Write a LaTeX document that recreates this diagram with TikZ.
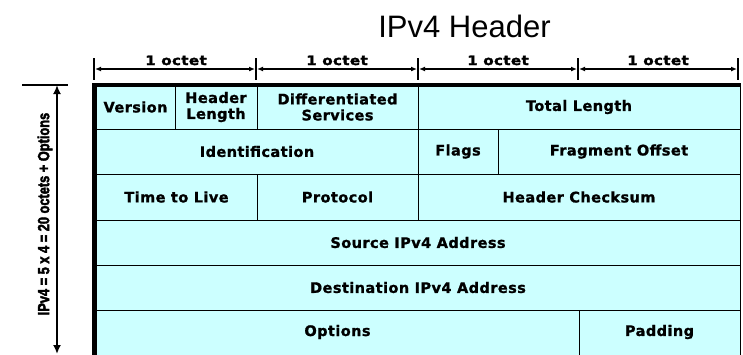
\documentclass[tikz,border=0pt]{standalone}
\usepackage{fontspec}
\setmainfont{DejaVu Sans}
\newfontfamily\cellfont[LetterSpace=3,FakeBold=1.2]{DejaVu Sans Bold}
\newfontfamily\octfont[LetterSpace=3,FakeBold=2]{DejaVu Sans Bold}
\newfontfamily\sidefont[FakeBold=3]{Liberation Sans Bold}
\newfontfamily\titlefont{Liberation Sans}
\usetikzlibrary{arrows.meta}
\definecolor{cellcyan}{RGB}{204,255,255}
\begin{document}
\begin{tikzpicture}[x=1pt,y=-1pt,
  cell/.style={draw=black, line width=1pt, fill=cellcyan, anchor=north west,
    inner sep=0pt, outer sep=0pt, align=center,
    font=\cellfont\fontsize{14.5}{16}\selectfont},
  tick/.style={line width=1.8pt},
  ruler/.style={line width=1.8pt, {Latex[length=6pt,width=5pt]}-{Latex[length=6pt,width=5pt]}},
  octet/.style={anchor=base, inner sep=0pt, xscale=1.15,
    font=\octfont\fontsize{13}{15}\selectfont},
  border/.style={line width=3.5pt, line join=miter},
]
\useasboundingbox (0,0) rectangle (743,354);
\clip (0,0) rectangle (743,354);

% title
\node[anchor=base, inner sep=0pt, font=\titlefont\fontsize{31}{36}\selectfont] (title) at (464.5,37) {IPv4 Header};

% row 1
\node[cell, minimum width=79pt,  minimum height=44pt] (version) at (96,85)  {Version};
\node[cell, minimum width=82pt,  minimum height=44pt] (hlen)    at (175,85) {Header\\Length};
\node[cell, minimum width=161pt, minimum height=44pt] (diff)    at (257,85) {Differentiated\\Services};
\node[cell, minimum width=322pt, minimum height=44pt] (total)   at (418,85) {Total Length};
% row 2
\node[cell, minimum width=322pt, minimum height=45pt] (ident) at (96,129)  {Identification};
\node[cell, minimum width=80pt,  minimum height=45pt] (flags) at (418,129) {Flags};
\node[cell, minimum width=242pt, minimum height=45pt] (frag)  at (498,129) {Fragment Offset};
% row 3
\node[cell, minimum width=161pt, minimum height=46pt] (ttl)   at (96,174)  {Time to Live};
\node[cell, minimum width=161pt, minimum height=46pt] (proto) at (257,174) {Protocol};
\node[cell, minimum width=322pt, minimum height=46pt] (chk)   at (418,174) {Header Checksum};
% row 4, 5
\node[cell, minimum width=644pt, minimum height=45pt] (src) at (96,220) {Source IPv4 Address};
\node[cell, minimum width=644pt, minimum height=45pt] (dst) at (96,265) {Destination IPv4 Address};
% row 6
\node[cell, minimum width=483pt, minimum height=44pt] (opt) at (96,310) {Options};
\node[cell, minimum width=161pt, minimum height=44pt] (pad) at (579,310) {Padding};
\fill[cellcyan] (96.5,353) rectangle (739.5,360);
\draw[line width=1pt] (579,353) -- (579,360) (740,353) -- (740,360);

% thick left and top border
\draw[border] (94,360) -- (94,85) -- (740.5,85);

% octet ruler
\foreach \i/\x in {0/94,1/256,2/418,3/578,4/738}{
  \coordinate (rt\i) at (\x,58);
  \coordinate (rb\i) at (\x,80);
  \draw[tick] (rt\i) -- (rb\i);
}
\foreach \i/\x in {0/95,1/257,2/419,3/579}{\coordinate (rs\i) at (\x,69);}
\foreach \i/\x in {1/255,2/417,3/577,4/737}{\coordinate (re\i) at (\x,69);}
\draw[ruler] (rs0) -- (re1);
\draw[ruler] (rs1) -- (re2);
\draw[ruler] (rs2) -- (re3);
\draw[ruler] (rs3) -- (re4);
\node[octet] (o1) at (176,65) {1 octet};
\node[octet] (o2) at (337,65) {1 octet};
\node[octet] (o3) at (498,65) {1 octet};
\node[octet] (o4) at (658,65) {1 octet};

% side dimension
\coordinate (sl) at (22,85);
\coordinate (sr) at (68,85);
\coordinate (stop) at (57,85);
\coordinate (sbot) at (57,354);
\draw[line width=1.5pt] (sl) -- (sr);
\draw[line width=2.5pt, {Latex[length=9pt,width=8pt]}-{Latex[length=9pt,width=8pt]}] (stop) -- (sbot);
\node[rotate=90, inner sep=0pt, font=\sidefont\fontsize{16}{18}\selectfont] (side) at (45,214)
  {\scalebox{0.8}[1]{IPv4 = 5 x 4 = 20 octets + Options}};
\end{tikzpicture}
\end{document}
